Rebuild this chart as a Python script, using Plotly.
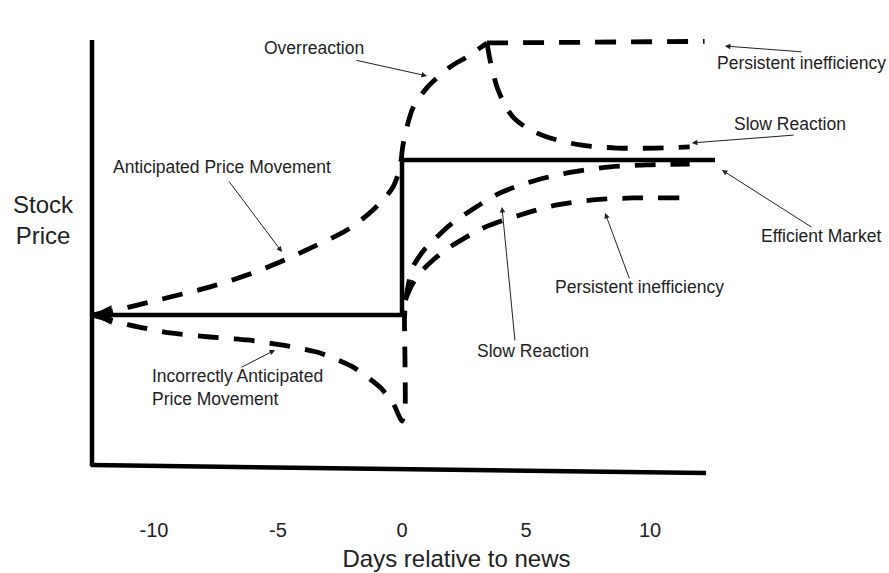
import plotly.graph_objects as go

# ---- data (days relative to news, price in units of the news-driven move) ----
days_eff = [-12.5, 0.0, 0.0, 12.62]
price_eff = [0.0, 0.0, 1.0, 1.0]

days_antic = [-12.5, -10.97, -9.35, -7.74, -6.25, -4.92, -3.59, -2.22, -1.17, -0.36,
              -0.08, 0.04, 0.2, 0.44, 1.0, 1.94, 2.62, 3.15, 3.43]
price_antic = [0.0, 0.052, 0.116, 0.181, 0.258, 0.342, 0.439, 0.548, 0.677, 0.826,
               0.955, 1.097, 1.213, 1.335, 1.465, 1.6, 1.665, 1.723, 1.755]

days_persist_hi = [3.43, 12.2]
price_persist_hi = [1.755, 1.765]

days_slow_hi = [3.43, 3.55, 3.83, 4.15, 4.48, 5.04, 5.85, 7.18, 8.67, 10.28, 11.6]
price_slow_hi = [1.755, 1.645, 1.471, 1.355, 1.277, 1.206, 1.148, 1.097, 1.077, 1.077, 1.084]

days_incorrect = [-12.5, -10.97, -9.35, -7.74, -6.25, -4.8, -3.31, -1.98, -0.89, -0.36,
                  -0.08, 0.0, 0.12, 0.12, 0.1, 0.14]
price_incorrect = [0.0, -0.065, -0.116, -0.142, -0.161, -0.194, -0.245, -0.335, -0.465, -0.568,
                   -0.665, -0.684, -0.613, -0.29, -0.032, 0.097]

days_slow_lo = [0.14, 0.28, 0.44, 0.89, 1.41, 1.94, 2.62, 3.95, 5.44, 6.9, 8.39, 9.88, 11.6]
price_slow_lo = [0.097, 0.213, 0.31, 0.419, 0.503, 0.581, 0.658, 0.787, 0.871, 0.923, 0.955, 0.968, 0.974]

days_persist_lo = [0.14, 0.4, 0.73, 1.25, 1.94, 3.27, 4.76, 6.25, 7.7, 9.31, 11.21]
price_persist_lo = [0.097, 0.194, 0.271, 0.355, 0.439, 0.561, 0.645, 0.71, 0.742, 0.755, 0.755]

tick_vals = [-10, -5, 0, 5, 10]
tick_text = ["-10", "-5", "0", "5", "10"]

FONT = "Liberation Sans, Arial, sans-serif"
TXT = "#222222"
DASH = "21px,15px"
ANN_SIZE = 17.5

fig = go.Figure()

def dashed(x, y, smooth=0.8):
    fig.add_trace(go.Scatter(x=x, y=y, mode="lines",
                             line=dict(color="black", width=4.8, dash=DASH,
                                       shape="spline", smoothing=smooth),
                             hoverinfo="skip", showlegend=False))

dashed(days_antic, price_antic)
dashed(days_persist_hi, price_persist_hi)
dashed(days_slow_hi, price_slow_hi)
dashed(days_incorrect, price_incorrect, 0.5)
dashed(days_slow_lo, price_slow_lo)
dashed(days_persist_lo, price_persist_lo)

fig.add_trace(go.Scatter(x=days_eff, y=price_eff, mode="lines",
                         line=dict(color="black", width=4.5),
                         hoverinfo="skip", showlegend=False))

# axis lines (hand-drawn look)
fig.add_shape(type="line", x0=-12.5, y0=1.774, x1=-12.5, y1=-0.975,
              line=dict(color="black", width=4.5))
fig.add_shape(type="line", x0=-12.55, y0=-0.968, x1=12.26, y1=-1.019,
              line=dict(color="black", width=4.5))

# arrowhead at left end of efficient-market line
fig.add_annotation(x=-12.5, y=0, ax=-11.7, ay=0, axref="x", ayref="y",
                   xref="x", yref="y", text="", showarrow=True,
                   arrowhead=2, arrowsize=1.3, arrowwidth=3, arrowcolor="black")

labels = [
    ("Overreaction", -3.55, 1.723),
    ("Anticipated Price Movement", -7.26, 0.955),
    ("Persistent inefficiency", 16.1, 1.626),
    ("Slow Reaction", 15.65, 1.232),
    ("Efficient Market", 16.9, 0.51),
    ("Persistent inefficiency", 9.56, 0.181),
    ("Slow Reaction", 5.28, -0.232),
]
for t, x, y in labels:
    fig.add_annotation(x=x, y=y, text=t, showarrow=False, xanchor="center",
                       font=dict(family=FONT, size=ANN_SIZE, color=TXT))

fig.add_annotation(x=-10.16, y=-0.465, text="Incorrectly Anticipated<br>Price Movement",
                   showarrow=False, xanchor="left", align="left",
                   font=dict(family=FONT, size=ANN_SIZE, color=TXT))

arrows = [
    (-1.895, 1.645, 1.008, 1.542),
    (-7.02, 0.871, -4.84, 0.406),
    (-6.53, -0.342, -5.12, -0.226),
    (16.17, 1.697, 13.02, 1.735),
    (15.85, 1.161, 11.69, 1.11),
    (16.57, 0.561, 12.9, 0.935),
    (9.19, 0.226, 8.19, 0.658),
    (4.56, -0.174, 4.03, 0.697),
]
for x0, y0, x1, y1 in arrows:
    fig.add_annotation(x=x1, y=y1, ax=x0, ay=y0, axref="x", ayref="y",
                       xref="x", yref="y", text="", showarrow=True,
                       arrowhead=2, arrowsize=1.1, arrowwidth=1, arrowcolor="#222222")

fig.add_annotation(x=-14.45, y=0.613, text="Stock<br>Price", showarrow=False,
                   xanchor="center", align="center",
                   font=dict(family=FONT, size=24, color=TXT))

fig.update_layout(
    width=889, height=573,
    margin=dict(l=24, r=0, t=0, b=63),
    paper_bgcolor="white", plot_bgcolor="white",
    showlegend=False,
    xaxis=dict(range=[-15.242, 19.637], showgrid=False, zeroline=False,
               showline=False, tickvals=tick_vals, ticktext=tick_text,
               ticks="outside", ticklen=2, tickcolor="rgba(0,0,0,0)",
               tickfont=dict(family=FONT, size=20, color=TXT),
               title=dict(text="Days relative to news", standoff=10,
                          font=dict(family=FONT, size=24, color=TXT)),
               automargin=False, fixedrange=True),
    yaxis=dict(range=[-1.258, 2.032], showgrid=False, zeroline=False,
               showline=False, showticklabels=False, fixedrange=True),
)

fig.write_html("out.html",
               config={"displayModeBar": False, "staticPlot": True},
               post_script="document.body.style.margin='0';document.body.style.overflow='hidden';")
